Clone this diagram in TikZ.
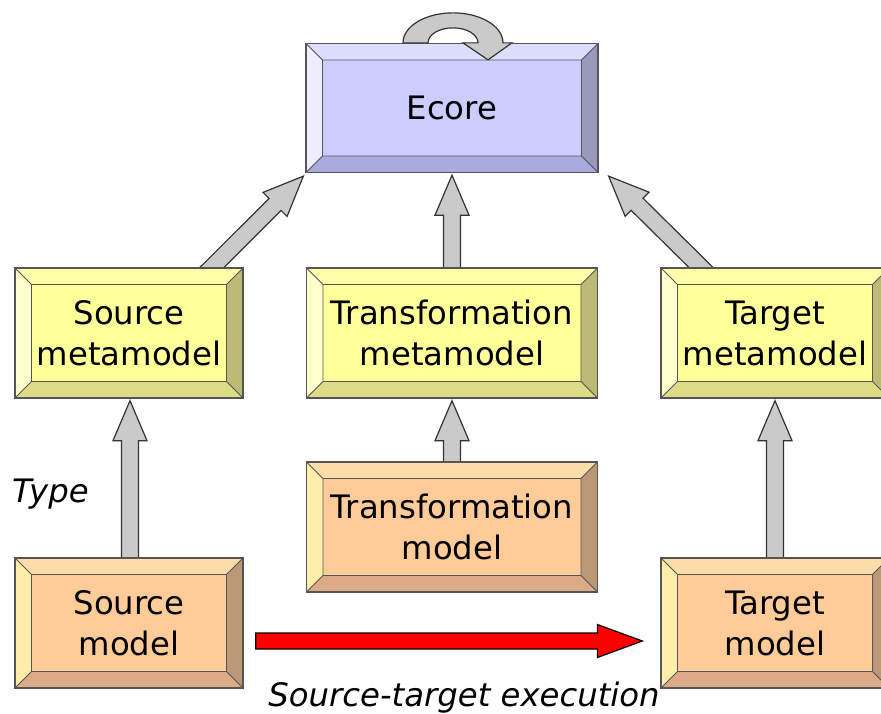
\documentclass[tikz,border=0pt]{standalone}
\usepackage{fontspec}
\setmainfont{DejaVu Sans}
\usetikzlibrary{calc}
\pgfdeclarelayer{bg}
\pgfsetlayers{bg,main}

\definecolor{boxline}{HTML}{555555}
\definecolor{ecF}{HTML}{CCCCFF}
\definecolor{ecT}{HTML}{DDDDFF}
\definecolor{ecL}{HTML}{EEEEFF}
\definecolor{ecR}{HTML}{9999BB}
\definecolor{ecB}{HTML}{AAAADD}
\definecolor{mmF}{HTML}{FFFF99}
\definecolor{mmT}{HTML}{FFFFAA}
\definecolor{mmL}{HTML}{FFFFCC}
\definecolor{mmR}{HTML}{BBBB77}
\definecolor{mmB}{HTML}{DDDD88}
\definecolor{mdF}{HTML}{FFCC99}
\definecolor{mdT}{HTML}{FFDDAA}
\definecolor{mdL}{HTML}{FFEEAA}
\definecolor{mdR}{HTML}{BB9977}
\definecolor{mdB}{HTML}{DDAA88}
\definecolor{arrowfill}{HTML}{CACACA}
\definecolor{arrowline}{HTML}{333333}

\newcommand\bevw{16.5pt}
% four bevelled faces of a raised panel: top, left, right, bottom
\newcommand\bevelfaces[4]{%
  \coordinate (bNW) at (path picture bounding box.north west);
  \coordinate (bNE) at (path picture bounding box.north east);
  \coordinate (bSW) at (path picture bounding box.south west);
  \coordinate (bSE) at (path picture bounding box.south east);
  \coordinate (iNW) at ([xshift=\bevw,yshift=-\bevw]bNW);
  \coordinate (iNE) at ([xshift=-\bevw,yshift=-\bevw]bNE);
  \coordinate (iSW) at ([xshift=\bevw,yshift=\bevw]bSW);
  \coordinate (iSE) at ([xshift=-\bevw,yshift=\bevw]bSE);
  \fill[#1] (bNW) -- (bNE) -- (iNE) -- (iNW) -- cycle;
  \fill[#2] (bNW) -- (iNW) -- (iSW) -- (bSW) -- cycle;
  \fill[#3] (bNE) -- (bSE) -- (iSE) -- (iNE) -- cycle;
  \fill[#4] (bSW) -- (iSW) -- (iSE) -- (bSE) -- cycle;
  \draw[boxline, line width=0.9pt]
    (bNW) -- (iNW) (bNE) -- (iNE) (bSW) -- (iSW) (bSE) -- (iSE)
    (iNW) rectangle (iSE);
}

\tikzset{
  panel/.style={draw=boxline, line width=1.3pt, inner sep=0pt, align=center,
    font=\fontsize{32.3}{41}\selectfont, text=black},
  bevel/.style n args={5}{fill=#1, path picture={\bevelfaces{#2}{#3}{#4}{#5}}},
  ecorebox/.style={panel, bevel={ecF}{ecT}{ecL}{ecR}{ecB},
    minimum width=292pt, minimum height=129pt},
  metabox/.style={panel, bevel={mmF}{mmT}{mmL}{mmR}{mmB}, minimum height=130pt},
  modelbox/.style={panel, bevel={mdF}{mdT}{mdL}{mdR}{mdB}, minimum height=130pt},
  narrow/.style={minimum width=228pt},
  wide/.style={minimum width=291pt},
  % outlined block arrow: shaft half-width, head half-width, head length
  blockarrow/.style n args={3}{to path={
    ($(\tikztostart)!#1!90:(\tikztotarget)$)
    -- ($($(\tikztotarget)!#3!(\tikztostart)$)!#1!-90:(\tikztostart)$)
    -- ($($(\tikztotarget)!#3!(\tikztostart)$)!#2!-90:(\tikztostart)$)
    -- (\tikztotarget)
    -- ($($(\tikztotarget)!#3!(\tikztostart)$)!#2!90:(\tikztostart)$)
    -- ($($(\tikztotarget)!#3!(\tikztostart)$)!#1!90:(\tikztostart)$)
    -- ($(\tikztostart)!#1!-90:(\tikztotarget)$)
    -- cycle}},
  greyarrow/.style={draw=arrowline, fill=arrowfill, line width=1.2pt,
    line join=miter, blockarrow={8.5pt}{17pt}{40pt}},
  redarrow/.style={draw=black, fill=red, line width=1.2pt,
    line join=miter, blockarrow={8pt}{16.5pt}{45pt}},
  caption/.style={font=\fontsize{32.3}{41}\selectfont\itshape, inner sep=0pt, text=black},
}

\begin{document}
\begin{tikzpicture}[x=1pt, y=-1pt]
  \useasboundingbox (0,0) rectangle (881,713);
  \clip (0,0) rectangle (881,713);

  % panels
  \node[ecorebox] (ecore) at (452,108) {Ecore};
  \node[metabox, narrow] (srcmm) at (129,333) {Source\\metamodel};
  \node[metabox, wide]   (trmm)  at (452,333) {Transformation\\metamodel};
  \node[metabox, narrow] (tgtmm) at (775,333) {Target\\metamodel};
  \node[modelbox, wide]   (trmod)  at (452,527) {Transformation\\model};
  \node[modelbox, narrow] (srcmod) at (129,623) {Source\\model};
  \node[modelbox, narrow] (tgtmod) at (775,623) {Target\\model};

  % labels
  \node[caption, anchor=base west] (typelbl) at (12,502) {Type};
  \node[caption, anchor=base] (execlbl) at (464,706) {Source-target execution};

  % arrow end points
  \coordinate (a1s) at ([shift={(73,10)}]srcmm.north);
  \coordinate (a1e) at ([shift={(-2,3)}]ecore.south west);
  \coordinate (a2s) at ([shift={(0,12)}]trmm.north);
  \coordinate (a2e) at ([shift={(0,2)}]ecore.south);
  \coordinate (a3s) at ([shift={(-64,10)}]tgtmm.north);
  \coordinate (a3e) at ([shift={(10,3)}]ecore.south east);
  \coordinate (a4s) at ([shift={(1,12)}]srcmod.north);
  \coordinate (a4e) at ([shift={(1,2)}]srcmm.south);
  \coordinate (a5s) at ([shift={(0,12)}]trmod.north);
  \coordinate (a5e) at ([shift={(0,2)}]trmm.south);
  \coordinate (a6s) at ([shift={(0,12)}]tgtmod.north);
  \coordinate (a6e) at ([shift={(0,2)}]tgtmm.south);
  \coordinate (rs) at ([shift={(12,18)}]srcmod.east);
  \coordinate (re) at ([shift={(-18,18)}]tgtmod.west);

  \begin{pgfonlayer}{bg}
    \draw[greyarrow] (a1s) to (a1e);
    \draw[greyarrow] (a2s) to (a2e);
    \draw[greyarrow] (a3s) to (a3e);
    \draw[greyarrow] (a4s) to (a4e);
    \draw[greyarrow] (a5s) to (a5e);
    \draw[greyarrow] (a6s) to (a6e);
  \end{pgfonlayer}

  \draw[redarrow] (rs) to (re);

  % self-reference loop on top of Ecore
  \coordinate (lp) at ([xshift=1pt]ecore.north);
  \draw[draw=arrowline, fill=arrowfill, line width=1.2pt, line join=miter]
    ([xshift=-50pt]lp) arc[start angle=180, end angle=0, x radius=50pt, y radius=30pt]
    -- ([xshift=59pt]lp) -- ([xshift=35pt, yshift=-17pt]lp) -- ([xshift=10pt]lp)
    -- ([xshift=25pt]lp) arc[start angle=0, end angle=180, x radius=25pt, y radius=15pt]
    -- cycle;
\end{tikzpicture}
\end{document}
